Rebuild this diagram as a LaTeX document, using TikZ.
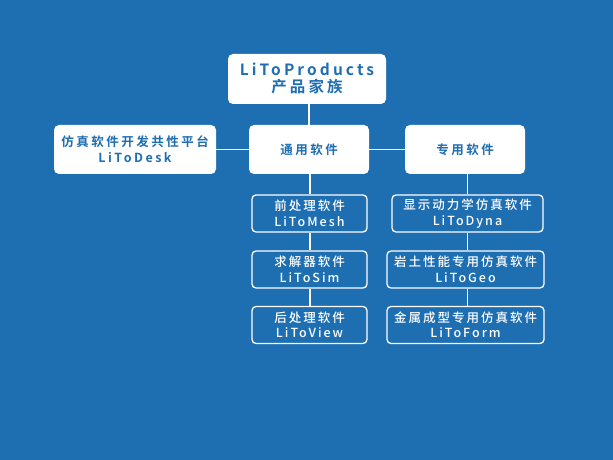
\documentclass[tikz,border=0pt]{standalone}
\usepackage{fontspec}
\setmainfont{Noto Sans CJK SC}[BoldFont={* Bold}]
\newfontfamily\cjk{Noto Sans CJK SC Bold}[LetterSpace=20]
\newfontfamily\cjkmed{Noto Sans CJK SC Medium}[LetterSpace=16]
\definecolor{bgblue}{HTML}{1E6EB2}
\tikzset{
  x=1pt,y=1pt,
  whitebox/.style={fill=white, rounded corners=5pt, text=bgblue, align=center, inner sep=0pt, font=\cjk},
  outbox/.style={draw=white, line width=1.3pt, fill=bgblue, rounded corners=4pt, text=white, align=center, inner sep=0pt, minimum height=37pt, font=\cjkmed\fontsize{12.5}{15.5}\selectfont},
  conn/.style={draw=white, line width=1.8pt}
}
\begin{document}
\begin{tikzpicture}
\useasboundingbox (0,0) rectangle (613,460);
\fill[bgblue] (0,0) rectangle (613,460);
% top
\node[whitebox, minimum width=158pt, minimum height=50pt, font=\cjk\fontsize{15.5}{17}\selectfont] (top) at (307,381) {LiToProducts\\产品家族};
% second row
\node[whitebox, minimum width=162pt, minimum height=49pt, font=\cjk\fontsize{12.5}{16}\selectfont] (desk) at (135,310.5) {仿真软件开发共性平台\\LiToDesk};
\node[whitebox, minimum width=120pt, minimum height=49pt, font=\cjk\fontsize{12.5}{16}\selectfont] (gen) at (309,310.5) {通用软件};
\node[whitebox, minimum width=120pt, minimum height=49pt, font=\cjk\fontsize{12.5}{16}\selectfont] (spec) at (465,310.5) {专用软件};
% left column
\node[outbox, minimum width=115pt] (mesh) at (309.5,246.5) {前处理软件\\LiToMesh};
\node[outbox, minimum width=115pt] (sim) at (309.5,190.5) {求解器软件\\LiToSim};
\node[outbox, minimum width=115pt] (view) at (309.5,135) {后处理软件\\LiToView};
% right column
\node[outbox, minimum width=151pt] (dyna) at (467.5,246.5) {显示动力学仿真软件\\LiToDyna};
\node[outbox, minimum width=157pt] (geo) at (465.5,190.5) {岩土性能专用仿真软件\\LiToGeo};
\node[outbox, minimum width=157pt] (form) at (465.5,135) {金属成型专用仿真软件\\LiToForm};
% connectors
\draw[conn] (top.south -| gen.north) -- (gen.north);
\draw[conn] (desk.east) -- (gen.west);
\draw[conn] (gen.east) -- (spec.west);
\draw[conn] ([xshift=1pt]gen.south) -- ([xshift=1pt]mesh.north -| gen.south);
\draw[conn] ([xshift=1pt]mesh.south -| gen.south) -- ([xshift=1pt]sim.north -| gen.south);
\draw[conn] ([xshift=1pt]sim.south -| gen.south) -- ([xshift=1pt]view.north -| gen.south);
\draw[conn] ([xshift=2.5pt]spec.south) -- ([xshift=2.5pt]dyna.north -| spec.south);
\draw[conn] ([xshift=2.5pt]dyna.south -| spec.south) -- ([xshift=2.5pt]geo.north -| spec.south);
\draw[conn] ([xshift=2.5pt]geo.south -| spec.south) -- ([xshift=2.5pt]form.north -| spec.south);
\end{tikzpicture}
\end{document}
